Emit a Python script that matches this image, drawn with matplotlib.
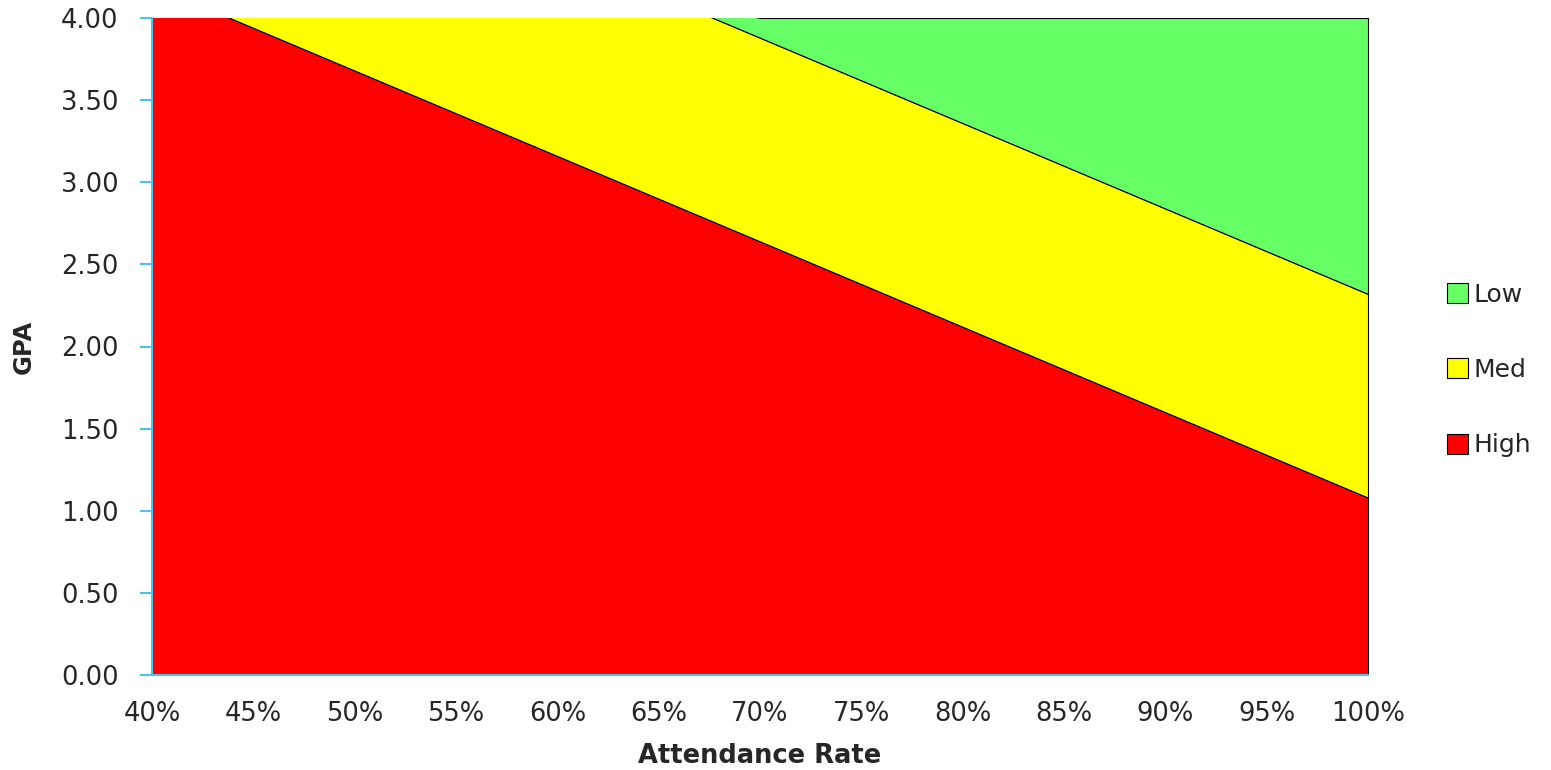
import numpy as np
import matplotlib.pyplot as plt
from matplotlib.patches import Patch
from matplotlib.ticker import FuncFormatter

# Attendance rate (%) and stacked risk bands (GPA units)
attendance = [40, 45, 50, 55, 60, 65, 70, 75, 80, 85, 90, 95, 100]
high = [4.20, 3.94, 3.68, 3.42, 3.16, 2.90, 2.64, 2.38, 2.12, 1.86, 1.60, 1.34, 1.08]
med = [1.24, 1.24, 1.24, 1.24, 1.24, 1.24, 1.24, 1.24, 1.24, 1.24, 1.24, 1.24, 1.24]
low = [0.00, 0.00, 0.00, 0.00, 0.00, 0.00, 0.12, 0.38, 0.64, 0.90, 1.16, 1.42, 1.68]

labels = ["High", "Med", "Low"]
colors = ["#FF0000", "#FFFF00", "#66FF66"]
axis_blue = "#4FC1EE"
text_col = "#262626"

plt.rcParams['font.family'] = ['DejaVu Sans']

W, H = 1551, 770
fig = plt.figure(figsize=(W / 100, H / 100), dpi=100)
ax = fig.add_axes([152 / W, 1 - 675 / H, (1368 - 152) / W, (675 - 18) / H])

ax.stackplot(attendance, high, med, low, colors=colors,
             edgecolor="black", linewidth=0.8)

ax.set_xlim(40, 100)
ax.set_ylim(0, 4)
ax.set_xticks(attendance)
ax.xaxis.set_major_formatter(FuncFormatter(lambda v, p: f"{v:.0f}%"))
ax.set_yticks(np.arange(0, 4.01, 0.5))
ax.yaxis.set_major_formatter(FuncFormatter(lambda v, p: f"{v:.2f}"))

ax.tick_params(axis='x', length=0, pad=19, labelsize=18.5, labelcolor=text_col)
ax.tick_params(axis='y', length=9, width=1.5, color=axis_blue, pad=15,
               labelsize=18.5, labelcolor=text_col)

for s in ["top", "right"]:
    ax.spines[s].set_visible(False)
for s in ["left", "bottom"]:
    ax.spines[s].set_color(axis_blue)
    ax.spines[s].set_linewidth(1.5)
    ax.spines[s].set_zorder(5)

# axis titles
fig.text(760 / W, 1 - 756 / H, "Attendance Rate", fontsize=18.5, fontweight="bold",
         ha="center", va="center", color=text_col)
fig.text(24 / W, 1 - 347 / H, "GPA", fontsize=17.5, fontweight="bold",
         rotation=90, ha="center", va="center", color=text_col)

# Legend: Low on top, High at bottom
handles = [Patch(facecolor=c, edgecolor="black", linewidth=0.8) for c in colors]
fig.legend(handles[::-1], labels[::-1], loc="center left",
           bbox_to_anchor=(1424 / W, 1 - 370 / H), frameon=False, fontsize=18,
           handlelength=0.85, handleheight=0.85, handletextpad=0.25,
           labelspacing=2.05, labelcolor=text_col)

fig.savefig("out.png", dpi=100)
